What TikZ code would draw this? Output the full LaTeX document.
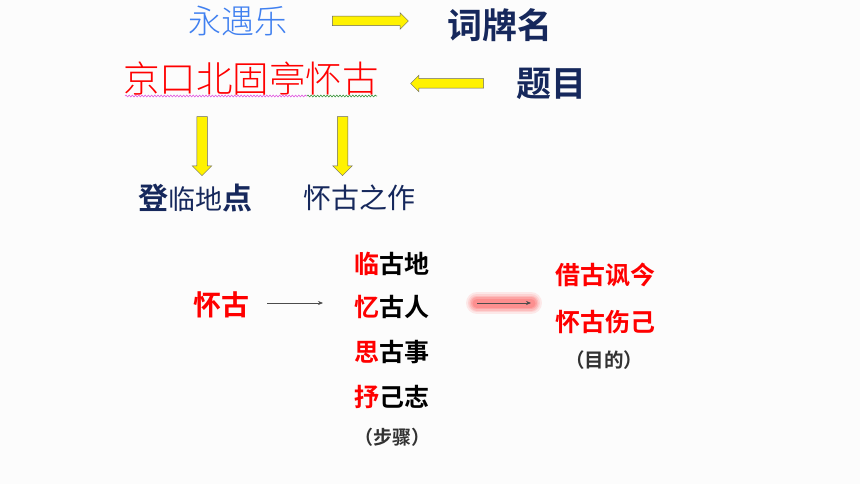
\documentclass[tikz,border=0pt]{standalone}
\usepackage{fontspec}
\newfontfamily\cjk{Noto Sans CJK SC}[BoldFont=Noto Sans CJK SC Bold]
\newfontfamily\cjklight{Noto Sans CJK SC Light}
\usetikzlibrary{shapes.arrows,decorations.pathmorphing,arrows.meta}
\definecolor{navy}{RGB}{22,40,92}
\definecolor{skyblue}{RGB}{64,128,240}
\definecolor{bg}{RGB}{252,252,252}
\definecolor{dgray}{RGB}{50,50,50}
\definecolor{glowred}{RGB}{255,60,60}
\definecolor{sqpink}{RGB}{225,90,225}
\definecolor{sqgreen}{RGB}{60,150,60}
\tikzset{
  yarrow/.style={single arrow, draw=black!60, fill=yellow, line width=0.5pt,
    inner sep=4.5pt, minimum width=0pt, single arrow head extend=3.5pt, anchor=center},
  yarrowv/.style={yarrow, inner sep=5pt, single arrow head extend=4.5pt, shape border rotate=270},
  txt/.style={inner sep=0pt, anchor=center},
  thinarrow/.style={draw=black!70, line width=0.6pt, -{Stealth[length=5pt,width=4pt]}},
  squig/.style={decorate, decoration={snake, amplitude=0.9pt, segment length=3.2pt}, line width=0.6pt}
}
\begin{document}
\begin{tikzpicture}[x=1pt,y=-1pt]
\useasboundingbox (0,0) rectangle (860,484);
\fill[bg] (0,0) rectangle (860,484);

% top rows
\node[txt, text=skyblue, font=\cjklight\fontsize{33}{34}\selectfont] (yyl) at (238,21) {永遇乐};
\node[txt, text=navy, font=\cjk\bfseries\fontsize{35}{36}\selectfont] (cpm) at (500,25) {词牌名};
\node[yarrow, minimum height=76pt] (a1) at (368,21) {};

\node[txt, text=red, font=\cjklight\fontsize{36.5}{37}\selectfont] (title) at (251,79) {京口北固亭怀古};
\node[txt, text=navy, font=\cjk\bfseries\fontsize{35}{36}\selectfont] (tm) at (551,84) {题目};
\node[yarrow, minimum height=73pt, shape border rotate=180] (a2) at (449.5,83.5) {};
\coordinate (sq1) at (125,96);
\coordinate (sq2) at (307,96);
\coordinate (sq3) at (377,96);
\draw[squig, draw=sqpink] (sq1) -- (sq2);
\draw[squig, draw=sqgreen] (sq2) -- (sq3);

\node[yarrowv, minimum height=59pt] (a3) at (202,143.5) {};
\node[yarrowv, minimum height=59pt] (a4) at (342.5,143.5) {};

\node[txt, text=navy, font=\cjk\fontsize{27}{28}\selectfont] (djdd) at (195,198)
  {{\bfseries\fontsize{30}{30}\selectfont 登}临地{\bfseries\fontsize{30}{30}\selectfont 点}};
\node[txt, text=navy, font=\cjk\fontsize{28}{29}\selectfont] (hgzz) at (359,198) {怀古之作};

% bottom part
\node[txt, text=red, font=\cjk\bfseries\fontsize{28}{29}\selectfont] (hg) at (221,305) {怀古};
\coordinate (t1) at (267,303);
\coordinate (t2) at (323,303);
\draw[thinarrow] (t1) -- (t2);

\begin{scope}[font=\cjk\bfseries\fontsize{25}{26}\selectfont]
\node[txt] (s1) at (392,264) {\textcolor{red}{临}古地};
\node[txt] (s2) at (392,307) {\textcolor{red}{忆}古人};
\node[txt] (s3) at (392,352) {\textcolor{red}{思}古事};
\node[txt] (s4) at (392,397) {\textcolor{red}{抒}己志};
\node[txt, text=red] (p1) at (605,275) {借古讽今};
\node[txt, text=red] (p2) at (605,322) {怀古伤己};
\end{scope}
\node[txt, text=dgray, font=\cjk\bfseries\fontsize{19}{20}\selectfont] (bz) at (392,437) {（步骤）};
\node[txt, text=dgray, font=\cjk\bfseries\fontsize{19.5}{20}\selectfont] (md) at (604,360) {（目的）};

% glowing arrow
\coordinate (g1) at (477,303);
\coordinate (g2) at (531,303);
\foreach \w/\o in {22/0.10,18/0.12,15/0.15,12/0.18,9/0.2}{
  \draw[glowred, line width=\w pt, line cap=round, opacity=\o] (g1) -- (g2);
}
\draw[thinarrow] (g1) -- (g2);
\end{tikzpicture}
\end{document}
